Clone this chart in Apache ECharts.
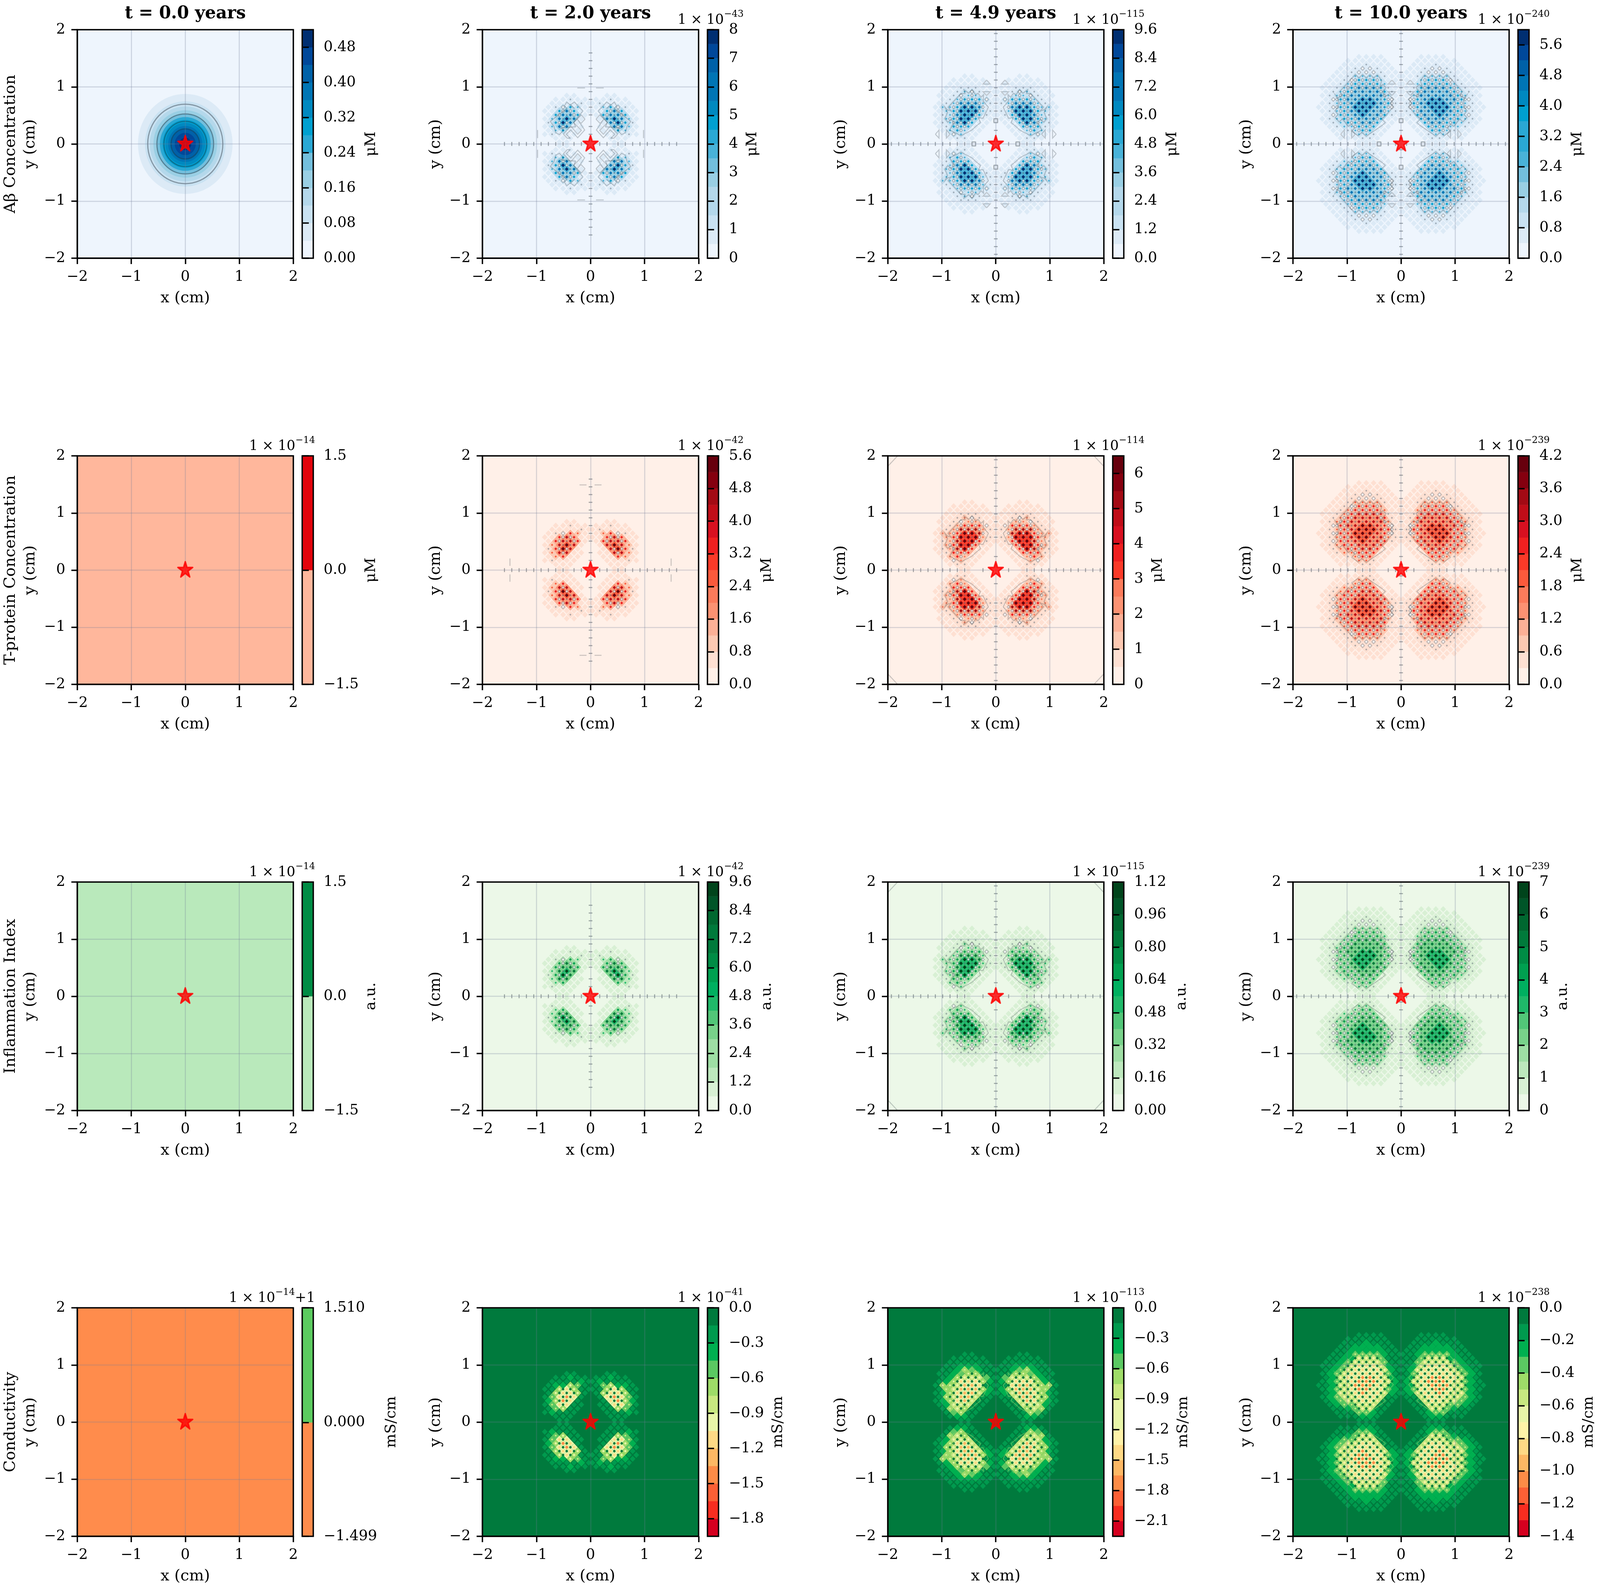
<!DOCTYPE html>
<html>
<head>
<meta charset="utf-8">
<title>Spatial maps</title>
<script src="https://cdn.jsdelivr.net/npm/echarts@6/dist/echarts.min.js"></script>
<style>
html, body { margin: 0; background: #fff; overflow: hidden; }
#chart { height: 4073px; }
</style>
</head>
<body>
<div id="chart"></div>
<script>
// labels
const timeTitles = ['t = 0.0 years', 't = 2.0 years', 't = 4.9 years', 't = 10.0 years'];
const rowLabels = ['Aβ Concentration', 'T-protein Concentration', 'Inflammation Index', 'Conductivity'];
const rowUnits = ['μM', 'μM', 'a.u.', 'mS/cm'];
const exponents = [
    ['', '-43', '-115', '-240'],
    ['-14', '-42', '-114', '-239'],
    ['-14', '-42', '-115', '-239'],
    ['-14+1', '-41', '-113', '-238']
];

// colorbar levels, one list per panel
const cbA0 = [0, 0.04, 0.08, 0.12, 0.16, 0.2, 0.24, 0.28, 0.32, 0.36, 0.4, 0.44, 0.48, 0.52];
const cbA1 = [0, 0.5, 1, 1.5, 2, 2.5, 3, 3.5, 4, 4.5, 5, 5.5, 6, 6.5, 7, 7.5, 8];
const cbA2 = [0, 0.6, 1.2, 1.8, 2.4, 3, 3.6, 4.2, 4.8, 5.4, 6, 6.6, 7.2, 7.8, 8.4, 9, 9.6];
const cbA3 = [0, 0.4, 0.8, 1.2, 1.6, 2, 2.4, 2.8, 3.2, 3.6, 4, 4.4, 4.8, 5.2, 5.6, 6];
const cbT1 = [0, 0.4, 0.8, 1.2, 1.6, 2, 2.4, 2.8, 3.2, 3.6, 4, 4.4, 4.8, 5.2, 5.6];
const cbT2 = [0, 0.5, 1, 1.5, 2, 2.5, 3, 3.5, 4, 4.5, 5, 5.5, 6, 6.5];
const cbT3 = [0, 0.3, 0.6, 0.9, 1.2, 1.5, 1.8, 2.1, 2.4, 2.7, 3, 3.3, 3.6, 3.9, 4.2];
const cbI1 = [0, 0.6, 1.2, 1.8, 2.4, 3, 3.6, 4.2, 4.8, 5.4, 6, 6.6, 7.2, 7.8, 8.4, 9, 9.6];
const cbI2 = [0, 0.08, 0.16, 0.24, 0.32, 0.4, 0.48, 0.56, 0.64, 0.72, 0.8, 0.88, 0.96, 1.04, 1.12];
const cbI3 = [0, 0.5, 1, 1.5, 2, 2.5, 3, 3.5, 4, 4.5, 5, 5.5, 6, 6.5, 7];
const cbC1 = [-1.95, -1.8, -1.65, -1.5, -1.35, -1.2, -1.05, -0.9, -0.75, -0.6, -0.45, -0.3, -0.15, 0];
const cbC2 = [-2.25, -2.1, -1.95, -1.8, -1.65, -1.5, -1.35, -1.2, -1.05, -0.9, -0.75, -0.6, -0.45, -0.3, -0.15, 0];
const cbC3 = [-1.4, -1.3, -1.2, -1.1, -1, -0.9, -0.8, -0.7, -0.6, -0.5, -0.4, -0.3, -0.2, -0.1, 0];
const cbFlat = [-1.5, 0, 1.5];
const cbFlatC = [-1.499, 0, 1.51];

// colorbar tick labels, one list per panel
const tkA0 = [0, 0.08, 0.16, 0.24, 0.32, 0.4, 0.48];
const tkA1 = [0, 1, 2, 3, 4, 5, 6, 7, 8];
const tkA2 = [0, 1.2, 2.4, 3.6, 4.8, 6, 7.2, 8.4, 9.6];
const tkA3 = [0, 0.8, 1.6, 2.4, 3.2, 4, 4.8, 5.6];
const tkT1 = [0, 0.8, 1.6, 2.4, 3.2, 4, 4.8, 5.6];
const tkT2 = [0, 1, 2, 3, 4, 5, 6];
const tkT3 = [0, 0.6, 1.2, 1.8, 2.4, 3, 3.6, 4.2];
const tkI1 = [0, 1.2, 2.4, 3.6, 4.8, 6, 7.2, 8.4, 9.6];
const tkI2 = [0, 0.16, 0.32, 0.48, 0.64, 0.8, 0.96, 1.12];
const tkI3 = [0, 1, 2, 3, 4, 5, 6, 7];
const tkC1 = [-1.8, -1.5, -1.2, -0.9, -0.6, -0.3, 0];
const tkC2 = [-2.1, -1.8, -1.5, -1.2, -0.9, -0.6, -0.3, 0];
const tkC3 = [-1.4, -1.2, -1, -0.8, -0.6, -0.4, -0.2, 0];

// colormaps, low value to high value
const blues = ['#eef5fd', '#dceaf6', '#c9e2f2', '#b4d8eb', '#99cfe4', '#73bfdd', '#49b2d8', '#2aa8d4', '#00a0d0', '#0089c0', '#0075b5', '#0061a8', '#00489a', '#002f72'];
const reds = ['#fff0e8', '#fee0d2', '#fcc9b2', '#fcb096', '#fc9272', '#fb7b5b', '#fb5a3c', '#fa3a28', '#ef2020', '#d81020', '#c00d18', '#a30a14', '#85000f', '#67000d'];
const greens = ['#ecf8e8', '#d8f0d4', '#bde8bd', '#9edea4', '#78d28a', '#52c678', '#1fb969', '#00b060', '#00a050', '#008c45', '#007a3b', '#006830', '#005528', '#00441b'];
const rdYlGn = ['#d5001f', '#f82d20', '#fc6035', '#fd8c47', '#fdb864', '#fed985', '#fef2a8', '#e8f5a8', '#c8e880', '#9edc68', '#5bc862', '#00b050', '#009a4e', '#007a3d'];
const flatColors = [null, ['#ffb79c', '#e2040c'], ['#b9e9bb', '#008c45'], ['#ff8c4c', '#5bcb5f']];

// t = 0 Aβ panel: radii (cm) of the filled bands and of the contour lines
const bandRadiiT0 = [0.875, 0.745, 0.655, 0.59, 0.53, 0.47, 0.42, 0.37, 0.315, 0.26, 0.195, 0.11];
const lineRadiiT0 = [0.695, 0.525, 0.395, 0.265];

// one quadrant of the checker pattern, row index = y node, char index = x node
// a pale tile, b grey dot, r ring, s/t/d/n peak strength, o trough ring, g trough dot
const nodesT2 = [
    '      a a',
    '     a a a',
    '    a a a b a',
    '   a a t s a',
    '  a a dod s a',
    '   a donot b',
    '  a dgngd s a',
    ' a todgdot a',
    'a a todot a a',
    ' a s t r b a',
    'a b a a a a',
    ' a a b a a',
    '    a a'
];
const nodesT49 = [
    '       a a',
    '      a b b a',
    '     a a s r a',
    '    a a sot s a',
    '   a a totot b a',
    '  a a tonodos b a',
    ' a a tongnotos a',
    'a b tongngdos b a',
    ' b songngnot s a',
    'a aodgnongtos s a',
    ' b sodododos b a',
    'a r tototos b a',
    ' a a sos r b a a',
    'a a b r s b a a',
    ' a a b b b a a',
    '  a a a a a a',
    '   a a a a a',
    '      a a'
];
const nodesT10 = [
    '       a a a',
    '      a b b a a a',
    '     a b s s a a a',
    '    a a totos b a a',
    '   a a tototos s b a',
    '  a a tododotot s b a',
    ' a a todgdgdotot s b a',
    'a b todgdgngdgtot r a',
    ' b sodgdgngngdotos b a',
    'a rotgdgngngngtotor a a',
    ' botodgngngngdotos b a',
    'a rotgdgngngdgdotor a',
    ' a sodgdgdgdgdotos b a',
    'a b todgdgdgdotos b a',
    ' a b todododotos b a a',
    'a a s totototos b a a',
    ' a a sotototor b a a',
    'a a b s s s s b a a',
    ' a a b r r r b a a',
    '  a a b r r b a a',
    '   a a a b a a a',
    '    a a a a a a',
    '     a a a a'
];

// contour lines of one quadrant, in node units
const outlineT2 = [[2.1, 8.5], [4.4, 10.8], [5.5, 10.1], [4.4, 9.15], [6.5, 10.8], [7.1, 9.9], [6.5, 9.15], [11, 5.8], [10, 4.6], [9.5, 2.9], [8.5, 2.4], [7.35, 3.6], [8.1, 4.1], [4.1, 4.45], [4.6, 5.6], [2.1, 8.5]];
const loopAT2 = [[1.5, 6.4], [2.5, 7.5], [4.6, 5.5], [2.5, 3.5], [3.5, 2.5], [5.4, 4.6], [7.4, 2.5], [6.4, 1.5], [5.4, 1.5]];
const loopBT2 = [[1.5, 6.4], [2.6, 5.3], [3.6, 6.4], [1.6, 3.6], [3.5, 1.6], [5.4, 3.6], [6.6, 2.5], [5.6, 1.5]];
const outlineT49 = [[2, 9.5], [3.45, 11], [3.35, 12.7], [4, 12.1], [4.85, 13.1], [5.5, 12.7], [6.5, 14], [7.4, 13.1], [8.7, 14], [8.4, 13], [9.5, 13], [13, 9.5], [12.2, 8.5], [13.2, 8.8], [13.9, 9.5], [13.2, 8.15], [13.9, 6.5], [13.1, 5.6], [12.2, 6.3], [11.4, 5.5], [12.6, 3.6], [9.5, 2.1], [6.5, 3.6], [5.5, 4.5], [4.2, 5.5], [4.7, 6.8], [3.5, 6.6], [2, 9.5]];
const outlineT10 = [[6.47, 17.87], [7.48, 17.03], [8.48, 17.94], [9.49, 17.04], [10.5, 17.94], [11.5, 17.04], [12.5, 17.94], [13.45, 16.94], [16.8, 13.5], [16, 12.7], [17.2, 11.9], [17.9, 12.6], [17.1, 11.3], [17.2, 9.5], [18, 8.6], [17.2, 7.6], [18, 6.8], [16.9, 5.7], [16, 6.5], [15.2, 5.5], [14.4, 4.5], [13.5, 5.1], [12.7, 4.1], [13.5, 3.3], [11.7, 2.1], [10.7, 3], [9.5, 2], [5.3, 4.7], [4.3, 5.5], [5.3, 6.5], [4.1, 7.4], [2.1, 9.65], [2.95, 10.5], [2.1, 11.5], [3.45, 12.85], [4.3, 12.2], [5.06, 13.5], [4.1, 14.5], [4.96, 15.4], [5.8, 14.5], [5.3, 16.4], [6.47, 17.87]];
const triUp = [[2.5, 16.5], [1.5, 15.45], [3.5, 15.45], [2.5, 16.5]];
const triDown = [[2.5, 12.5], [1.5, 13.5], [3.5, 13.5], [2.5, 12.5]];
const triLeft = [[12.5, 2.5], [13.5, 3.6], [13.5, 1.5], [12.5, 2.5]];
const triRight = [[16.5, 2.5], [15.5, 3.6], [15.5, 1.5], [16.5, 2.5]];
const squareOnX = [[5.5, -0.5], [6.5, -0.5], [6.5, 0.5], [5.5, 0.5], [5.5, -0.5]];
const squareOnY = [[-0.5, 5.5], [-0.5, 6.5], [0.5, 6.5], [0.5, 5.5], [-0.5, 5.5]];
const dashRow1 = [[[14.46, 1.5], [14.46, 3.6]], [[1.5, 14.46], [3.6, 14.46]]];
const dashRow2 = [[[22, 1.1], [22, 3]], [[1.1, 22], [3, 22]]];
const cornerCut = [[26.8, 29.5], [29.5, 26.8]];

// axis crossing marks, node index along the axis
const crossT2 = [2, 4, 7, 9, 11, 13, 15, 17, 19, 21, 23];
const crossT49 = [3, 8, 10, 12, 14, 16, 18, 20, 22, 24, 26, 28];
const crossT10 = [1, 3, 8, 10, 12, 14, 16, 18, 20, 22, 24, 26, 28];

const H = 4 / 59;                // node spacing in cm
const TILE = { a: 0.06, b: 0.06, r: 0.1, s: 0.16, t: 0.22, d: 0.32, n: 0.46 };
const TILE_C = { a: 0.1, b: 0.13, r: 0.18, s: 0.26, t: 0.36, d: 0.46, n: 0.52 };
const PEAK = { s: 0.45, t: 0.62, d: 0.8, n: 1 };
const PEAK_C = { s: 0.42, t: 0.52, d: 0.62, n: 0.74 };
const PEAK_R = { s: 0.24, t: 0.32, d: 0.38, n: 0.44 };

// the window may be narrower than the 4331px figure, x layout follows it
const FIG_W = 4331;
const pageW = Math.min(window.innerWidth || FIG_W, FIG_W);
const sx = pageW / FIG_W;
document.getElementById('chart').style.width = pageW + 'px';

const rowTops = [76, 1167, 2258, 3348];
const colLefts = [209, 1306, 2403, 3500];
const AX_SIZE = 585;
const CB_GAP = 609;
const CB_W = 30;
const SERIF = '"DejaVu Serif"';
const TICK_FONT = 37;
const LABEL_FONT = 40;
const unitGaps = [
    [157, 92, 131, 131],
    [157, 131, 92, 131],
    [157, 131, 157, 92],
    [212, 161, 161, 161]
];

// [edges, ticks, decimals] per panel
const cbSpec = [
    [[cbA0, tkA0, 2], [cbA1, tkA1, 0], [cbA2, tkA2, 1], [cbA3, tkA3, 1]],
    [[cbFlat, cbFlat, 1], [cbT1, tkT1, 1], [cbT2, tkT2, 0], [cbT3, tkT3, 1]],
    [[cbFlat, cbFlat, 1], [cbI1, tkI1, 1], [cbI2, tkI2, 2], [cbI3, tkI3, 0]],
    [[cbFlatC, cbFlatC, 3], [cbC1, tkC1, 1], [cbC2, tkC2, 1], [cbC3, tkC3, 1]]
];
const palettes = [blues, reds, greens, rdYlGn];

function minusFmt(v, dec) {
    return Number(v).toFixed(dec).replace('-', '\u2212');
}

function bandColors(palette, count) {
    const out = [];
    for (let k = 0; k < count; k++) {
        out.push(palette[Math.round(k * (palette.length - 1) / Math.max(count - 1, 1))]);
    }
    return out;
}

// mirror a quadrant of chars into tile and mark lists
function buildNodes(rows, bands, row) {
    const tiles = [];
    const marks = [];
    const isCond = row === 3;
    const n = bands.length - 1;
    const idx = f => isCond ? n - Math.round(f * n) : Math.round(f * n);
    [1, -1].forEach(qx => [1, -1].forEach(qy => {
        rows.forEach((line, j) => {
            for (let i = 0; i < line.length; i++) {
                const ch = line[i];
                if (ch === ' ') continue;
                const x = qx * (i + 0.5) * H;
                const y = qy * (j + 0.5) * H;
                if (TILE[ch] !== undefined) {
                    const f = isCond ? TILE_C[ch] : TILE[ch];
                    tiles.push([x, y, ch === 'a' ? 0.72 : 0.94, idx(f), 0]);
                }
                if (PEAK[ch] !== undefined) {
                    marks.push([x, y, PEAK_R[ch], idx(isCond ? PEAK_C[ch] : PEAK[ch]), 0]);
                } else if (ch === 'b') {
                    if (!isCond) marks.push([x, y, 0.28, 0, 2]);
                } else if (ch === 'r') {
                    if (!isCond) marks.push([x, y, 0.48, 0, 1]);
                } else if (ch === 'o') {
                    marks.push(isCond ? [x, y, 0.36, idx(0), 0] : [x, y, 0.38, 0, 1]);
                } else if (ch === 'g') {
                    marks.push(isCond ? [x, y, 0.36, idx(0), 0] : [x, y, 0.32, 0, 2]);
                }
            }
        });
    }));
    return { tiles, marks };
}

// mirror quadrant polylines (node units) to cm
function mirrorPaths(list) {
    const out = [];
    list.forEach(path => {
        [1, -1].forEach(qx => [1, -1].forEach(qy => {
            out.push(path.map(p => [qx * p[0] * H, qy * p[1] * H]));
        }));
    });
    return out;
}

function crossPaths(nodes) {
    const list = [];
    nodes.forEach(i => {
        list.push([[i + 0.5, -0.5], [i + 0.5, 0.5]]);
        list.push([[-0.5, i + 0.5], [0.5, i + 0.5]]);
    });
    return list;
}

function contourList(row, col) {
    let list = [];
    if (row === 3) {
        if (col === 2) list = [outlineT49];
        if (col === 3) list = [outlineT10];
        return mirrorPaths(list);
    }
    if (col === 1) {
        list = crossPaths(crossT2);
        if (row === 0) list = list.concat([outlineT2, loopAT2, loopBT2], dashRow1);
        if (row === 1) list = list.concat(dashRow2);
    } else if (col === 2) {
        list = crossPaths(crossT49).concat([outlineT49]);
        if (row === 0) list = list.concat([triUp, triDown, triLeft, triRight, squareOnX, squareOnY]);
        else list.push(cornerCut);
    } else if (col === 3) {
        list = crossPaths(crossT10).concat([outlineT10]);
        if (row === 0) list = list.concat([triUp, triDown, triLeft, triRight, squareOnX, squareOnY]);
    }
    return mirrorPaths(list);
}

// single diamond per data item
function renderDiamond(colors) {
    return function (params, api) {
        const x = api.value(0);
        const y = api.value(1);
        const r = api.value(2) * H;
        const kind = api.value(4);
        const points = [api.coord([x + r, y]), api.coord([x, y + r]), api.coord([x - r, y]), api.coord([x, y - r])];
        let style;
        if (kind === 1) {
            style = { fill: 'rgba(255,255,255,0.75)', stroke: 'rgba(60,70,80,0.3)', lineWidth: 2.5 };
        } else if (kind === 2) {
            style = { fill: 'rgba(70,85,100,0.42)', stroke: 'none' };
        } else {
            const c = colors[api.value(3)];
            style = { fill: c, stroke: c, lineWidth: 1 };
        }
        return { type: 'polygon', shape: { points }, style };
    };
}

const grids = [];
const xAxes = [];
const yAxes = [];
const series = [];
const graphics = [];
let gridIndex = 0;

function addMainAxes(left, top, row, col) {
    grids.push({ left, top, width: AX_SIZE * sx, height: AX_SIZE });
    const labelCfg = {
        fontFamily: SERIF, fontSize: TICK_FONT, color: '#000', margin: 30,
        showMinLabel: true, showMaxLabel: true,
        formatter: v => minusFmt(v, 0)
    };
    const common = {
        type: 'value', min: -2, max: 2, interval: 1, z: 5,
        axisLine: { onZero: false, lineStyle: { color: '#000', width: 3.5 } },
        axisTick: { length: 15, lineStyle: { color: '#000', width: 3.5 } },
        splitLine: { show: true, lineStyle: { color: 'rgba(110,125,150,0.25)', width: 3 } },
        nameLocation: 'middle',
        nameTextStyle: { fontFamily: SERIF, fontSize: LABEL_FONT, color: '#000', lineHeight: 50 }
    };
    xAxes.push(Object.assign({}, common, { gridIndex, name: 'x (cm)', nameGap: 78, axisLabel: labelCfg }));
    yAxes.push(Object.assign({}, common, {
        gridIndex,
        name: col === 0 ? rowLabels[row] + '\ny (cm)' : 'y (cm)',
        nameRotate: 90, nameGap: 100 * sx,
        axisLabel: Object.assign({}, labelCfg, { margin: 32 * sx })
    }));
}

function addFrame(idx, x0, y0, x1, y1, width) {
    series.push({
        type: 'custom', xAxisIndex: idx, yAxisIndex: idx, z: 20, silent: true, clip: false,
        encode: { x: 0, y: 1 },
        data: [[x0, y0, x1, y1]],
        renderItem: function (params, api) {
            const a = api.coord([api.value(0), api.value(1)]);
            const b = api.coord([api.value(2), api.value(3)]);
            return {
                type: 'rect',
                shape: { x: Math.min(a[0], b[0]), y: Math.min(a[1], b[1]), width: Math.abs(a[0] - b[0]), height: Math.abs(a[1] - b[1]) },
                style: { fill: 'none', stroke: '#000', lineWidth: width }
            };
        }
    });
}

function addFill(idx, color) {
    series.push({
        type: 'custom', xAxisIndex: idx, yAxisIndex: idx, z: 1, silent: true,
        encode: { x: 0, y: 1 },
        data: [[-2, -2, 2, 2]],
        renderItem: function (params, api) {
            const a = api.coord([api.value(0), api.value(1)]);
            const b = api.coord([api.value(2), api.value(3)]);
            return { type: 'rect', shape: { x: a[0], y: b[1], width: b[0] - a[0], height: a[1] - b[1] }, style: { fill: color } };
        }
    });
}

function addCircles(idx, radii, colors, stroke) {
    series.push({
        type: 'custom', xAxisIndex: idx, yAxisIndex: idx, z: stroke ? 3 : 2, silent: true,
        encode: { x: 0, y: 1 },
        data: radii.map((r, k) => [0, 0, r, k + 1]),
        renderItem: function (params, api) {
            const c = api.coord([api.value(0), api.value(1)]);
            const s = api.size([api.value(2), api.value(2)]);
            return {
                type: 'ellipse',
                shape: { cx: c[0], cy: c[1], rx: s[0], ry: s[1] },
                style: stroke ? { fill: 'none', stroke, lineWidth: 3 } : { fill: colors[api.value(3)] }
            };
        }
    });
}

function addPaths(idx, paths, stroke) {
    series.push({
        type: 'custom', xAxisIndex: idx, yAxisIndex: idx, z: 4, silent: true,
        encode: { x: 0, y: 1 },
        data: paths.map((p, k) => [0, 0, k]),
        renderItem: function (params, api) {
            const pts = paths[api.value(2)].map(p => api.coord(p));
            return { type: 'polyline', shape: { points: pts }, style: { fill: 'none', stroke, lineWidth: 2.5 } };
        }
    });
}

function addStar(idx) {
    series.push({
        type: 'scatter', xAxisIndex: idx, yAxisIndex: idx, z: 10, silent: true,
        symbol: 'path://M50,2 L61,37 L98,37 L68,59 L79,95 L50,73 L21,95 L32,59 L2,37 L39,37 Z',
        symbolSize: [40 * sx, 39],
        symbolOffset: [0, -2],
        itemStyle: { color: '#ff0000', borderColor: '#ff0000', borderWidth: 4, borderJoin: 'round' },
        data: [[0, 0]]
    });
}

function addColorbar(left, top, row, col, colors, spec) {
    const edges = spec[0];
    grids.push({ left: left + CB_GAP * sx, top, width: CB_W * sx, height: AX_SIZE });
    xAxes.push({ type: 'value', gridIndex, min: 0, max: 1, show: false });
    yAxes.push({
        type: 'value', gridIndex, position: 'right', min: edges[0], max: edges[edges.length - 1], z: 5,
        axisLine: { show: false },
        splitLine: { show: false },
        axisTick: { show: true, length: 17, customValues: spec[1], lineStyle: { color: '#000', width: 3.5 } },
        axisLabel: {
            show: true, customValues: spec[1], fontFamily: SERIF, fontSize: TICK_FONT, color: '#000', margin: 28 * sx,
            showMinLabel: true, showMaxLabel: true, formatter: v => minusFmt(v, spec[2])
        },
        name: rowUnits[row], nameLocation: 'middle', nameRotate: 90, nameGap: unitGaps[row][col] * sx,
        nameTextStyle: { fontFamily: SERIF, fontSize: LABEL_FONT - 2, color: '#000', verticalAlign: 'middle' }
    });
    series.push({
        type: 'custom', xAxisIndex: gridIndex, yAxisIndex: gridIndex, z: 2, silent: true,
        encode: { x: 0, y: 1 },
        data: edges.slice(0, -1).map((lo, k) => [0, lo, 1, edges[k + 1], k]),
        renderItem: function (params, api) {
            const a = api.coord([api.value(0), api.value(1)]);
            const b = api.coord([api.value(2), api.value(3)]);
            const c = colors[api.value(4)];
            return { type: 'rect', shape: { x: a[0], y: b[1], width: b[0] - a[0], height: a[1] - b[1] }, style: { fill: c, stroke: c, lineWidth: 0.5 } };
        }
    });
    addFrame(gridIndex, 0, edges[0], 1, edges[edges.length - 1], 3.5);
}

function addExponent(left, top, row, col) {
    const exp = exponents[row][col];
    if (!exp) return;
    const parts = exp.split('+');
    const sup = parts[0].replace('-', '\u2212');
    const tail = parts[1] ? '{b|+' + parts[1] + '}' : '';
    const shift = col === 0 ? 5 : (sup.length > 3 ? 56 : 68);
    graphics.push({
        type: 'text', x: left + (CB_GAP + CB_W + shift) * sx, y: top - 29, silent: true,
        style: {
            text: '{b|1 × 10}{s|' + sup + '}' + tail,
            textAlign: 'right', textVerticalAlign: 'middle',
            fill: '#000',
            rich: {
                b: { fontFamily: SERIF, fontSize: 35, lineHeight: 44, fill: '#000', verticalAlign: 'bottom' },
                s: { fontFamily: SERIF, fontSize: 24, lineHeight: 44, fill: '#000', verticalAlign: 'top' }
            }
        }
    });
}

const nodeSets = [null, nodesT2, nodesT49, nodesT10];

rowTops.forEach((top, row) => {
    colLefts.forEach((colLeft, col) => {
        const left = colLeft * sx;
        const spec = cbSpec[row][col];
        const bands = bandColors(palettes[row], spec[0].length - 1);
        const isFlat = col === 0 && row > 0;
        const cbColors = isFlat ? flatColors[row] : bands;

        addMainAxes(left, top, row, col);
        if (row === 0 && col === 0) {
            addFill(gridIndex, bands[0]);
            addCircles(gridIndex, bandRadiiT0, bands, null);
            addCircles(gridIndex, lineRadiiT0, bands, 'rgba(30,40,50,0.4)');
        } else if (isFlat) {
            addFill(gridIndex, flatColors[row][0]);
        } else {
            addFill(gridIndex, row === 3 ? bands[bands.length - 1] : bands[0]);
            const built = buildNodes(nodeSets[col], bands, row);
            series.push({
                type: 'custom', xAxisIndex: gridIndex, yAxisIndex: gridIndex, z: 2, silent: true,
                encode: { x: 0, y: 1 }, data: built.tiles, renderItem: renderDiamond(bands)
            });
            series.push({
                type: 'custom', xAxisIndex: gridIndex, yAxisIndex: gridIndex, z: 3, silent: true,
                encode: { x: 0, y: 1 }, data: built.marks, renderItem: renderDiamond(bands)
            });
            const paths = contourList(row, col);
            if (paths.length) {
                addPaths(gridIndex, paths, row === 3 ? 'rgba(150,215,110,0.45)' : 'rgba(50,60,70,0.26)');
            }
        }
        addFrame(gridIndex, -2, -2, 2, 2, 3.5);
        addStar(gridIndex);
        gridIndex++;

        addColorbar(left, top, row, col, cbColors, spec);
        gridIndex++;

        addExponent(left, top, row, col);
        if (row === 0) {
            graphics.push({
                type: 'text', x: left + AX_SIZE * sx / 2, y: 36, silent: true,
                style: {
                    text: timeTitles[col], textAlign: 'center', textVerticalAlign: 'middle',
                    fontFamily: SERIF, fontSize: 44, fontWeight: 'bold', fill: '#000'
                }
            });
        }
    });
});

const chart = echarts.init(document.getElementById('chart'), null, { renderer: 'canvas', devicePixelRatio: 1 });
chart.setOption({
    animation: false,
    backgroundColor: '#fff',
    grid: grids,
    xAxis: xAxes,
    yAxis: yAxes,
    series: series,
    graphic: graphics
});
</script>
</body>
</html>
